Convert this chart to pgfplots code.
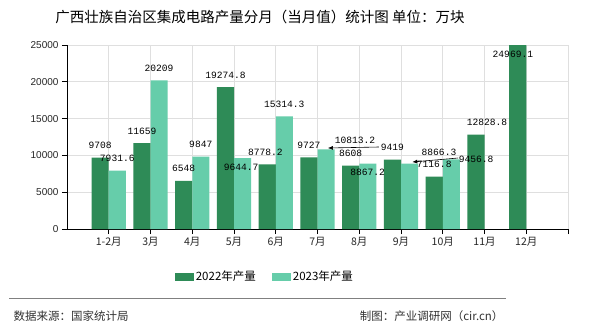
\documentclass[border=0pt]{standalone}
\usepackage{pgfplots}
\pgfplotsset{compat=1.18}
\usetikzlibrary{arrows.meta}
\usepackage{fontspec}
\setmainfont{Liberation Sans}
\newfontfamily\cjk{Noto Sans CJK SC}
\newfontfamily\mono{Liberation Mono}
\definecolor{dg}{HTML}{2E8B57}
\definecolor{lg}{HTML}{66CDAA}
\begin{document}
\begin{tikzpicture}[x=1pt,y=1pt]
\path[fill=white] (0,0) rectangle (590,330);
\node[font=\cjk\fontsize{14.5}{14.5}\selectfont] at (260,313) {广西壮族自治区集成电路产量分月（当月值）统计图\ 单位：万块};
\begin{axis}[
  at={(67pt,101pt)}, anchor=south west,
  scale only axis, width=501pt, height=184pt,
  xmin=-1, xmax=11, ymin=0, ymax=25000,
  ytick={0,5000,...,25000},
  xtick={0,1,2,3,4,5,6,7,8,9,10,11},
  xticklabels={1-2月,3月,4月,5月,6月,7月,8月,9月,10月,11月,12月,{}},
  x tick label style={font=\cjk\fontsize{10.5}{10.5}\selectfont, text=black!85},
  y tick label style={font=\fontsize{10}{10}\selectfont, text=black!85},
  /pgf/number format/assume math mode=true,
  /pgf/number format/1000 sep={},
  scaled y ticks=false,
  grid=major, grid style={gray!25, line width=0.8pt},
  axis x line*=bottom, axis y line*=left,
  axis line style={black, line width=0.8pt},
  tick align=outside, major tick length=5pt,
  tick style={black, line width=0.8pt},
  legend style={at={(0.395,-0.26)}, anchor=center, draw=none, fill=none,
    legend columns=2, font=\cjk\fontsize{11.5}{11.5}\selectfont,
    /tikz/every even column/.append style={column sep=14pt}},
  legend image code/.code={\fill[#1] (0pt,-4pt) rectangle (19pt,4pt);},
]
\addplot[ybar, bar width=0.408, bar shift=-0.204, fill=dg, draw=none] coordinates {
 (0,9708) (1,11659) (2,6548) (3,19274.8) (4,8778.2) (5,9727) (6,8608) (7,9419) (8,7116.8) (9,12828.8) (10,24969.1)};
\addlegendentry{2022年产量}
\addplot[ybar, bar width=0.408, bar shift=0.204, fill=lg, draw=none] coordinates {
 (0,7931.6) (1,20209) (2,9847) (3,9644.7) (4,15314.3) (5,10813.2) (6,8867.2) (7,8866.3) (8,9456.8)};
\addlegendentry{2023年产量}
\addplot[forget plot, black, line width=0.6pt, -{Latex[length=5pt,width=4pt]}] coordinates {(6.47,11141) (5.25,11005)};
\addplot[forget plot, black, line width=0.6pt, -{Latex[length=5pt,width=4pt]}] coordinates {(8.37,9647) (7.27,9103)};
\addplot[forget plot, draw=none, mark=none, nodes near coords, point meta=explicit symbolic,
  nodes near coords style={anchor=center, inner sep=0pt, text=black, font=\mono\fontsize{9.6}{9.6}\selectfont}]
 coordinates {
 (-0.204,11338)[9708] (0.204,9562)[7931.6]
 (0.796,13289)[11659] (1.204,21839)[20209]
 (1.796,8178)[6548] (2.204,11477)[9847]
 (2.796,20905)[19274.8] (3.17,8424)[9644.7]
 (3.75,10408)[8778.2] (4.204,16944)[15314.3]
 (4.796,11357)[9727] (5.9,12092)[10813.2]
 (5.796,10238)[8608] (6.2,7745)[8867.2]
 (6.796,11049)[9419] (7.91,10462)[8866.3]
 (7.796,8747)[7116.8] (8.80,9511)[9456.8]
 (9.06,14538)[12828.8]
 (9.68,23777)[24969.1]
 };
\end{axis}
\draw[gray, line width=1pt] (9,32) -- (506,32);
\node[anchor=west, font=\cjk\fontsize{11.5}{11.5}\selectfont, text=black!80] at (10,14) {数据来源：国家统计局};
\node[anchor=east, font=\cjk\fontsize{11.5}{11.5}\selectfont, text=black!80] at (507,14) {制图：产业调研网（cir.cn）};
\end{tikzpicture}
\end{document}
